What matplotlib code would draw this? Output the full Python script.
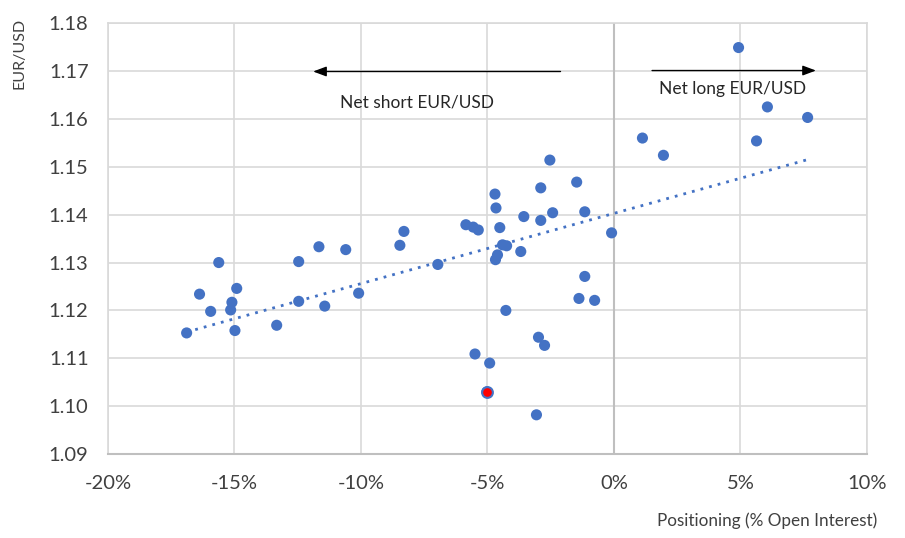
import numpy as np
import matplotlib
matplotlib.use("Agg")
from matplotlib import pyplot as plt
from matplotlib.ticker import FuncFormatter

plt.rcParams['font.family'] = ['Lato', 'DejaVu Sans']

# positioning (% of open interest) vs EUR/USD spot
positioning = [-16.89, -15.62, -16.38, -15.94, -14.91, -15.10, -15.15, -14.98,
               -13.33, -12.46, -12.46, -11.66, -11.43, -10.60, -10.09, -8.46,
               -8.30, -6.96, -5.85, -5.56, -5.36, -4.70, -4.66, -4.51,
               -3.56, -2.53, -2.89, -1.47, -2.89, -2.42, -1.15, -0.09,
               -4.40, -4.24, -3.68, -4.60, -4.68, -1.15, -1.38, -0.76,
               -4.27, -2.98, -2.74, -5.49, -4.91, -3.06,
               4.93, 6.07, 7.66, 1.13, 1.96, 5.64, -5.02]
eurusd = [1.1153, 1.1300, 1.1234, 1.1198, 1.1246, 1.1217, 1.1201, 1.1158,
          1.1169, 1.1302, 1.1219, 1.1333, 1.1209, 1.1327, 1.1236, 1.1336,
          1.1365, 1.1296, 1.1379, 1.1374, 1.1368, 1.1443, 1.1414, 1.1373,
          1.1396, 1.1514, 1.1456, 1.1468, 1.1388, 1.1404, 1.1406, 1.1362,
          1.1337, 1.1335, 1.1323, 1.1316, 1.1306, 1.1271, 1.1225, 1.1221,
          1.1200, 1.1144, 1.1127, 1.1109, 1.1090, 1.0982,
          1.1749, 1.1625, 1.1603, 1.1560, 1.1524, 1.1554, 1.1030]

# latest observation highlighted in red
latest_x = [-5.02]
latest_y = [1.1030]

blue = '#4472C4'
grid_col = '#D9D9D9'
axis_col = '#BFBFBF'
txt_col = '#404040'

fig = plt.figure(figsize=(9.05, 5.38), dpi=100)
ax = fig.add_axes([0.1193, 0.1560, 0.8385, 0.8010])

x = np.array(positioning)
y = np.array(eurusd)

ax.scatter(x, y, s=64, color=blue, edgecolors='none', zorder=3)
ax.scatter(latest_x, latest_y, s=60, color='red', edgecolors=blue, linewidths=1.5, zorder=4)

# linear trendline
slope, intercept = np.polyfit(x, y, 1)
tx = np.array([x.min(), x.max()])
ax.plot(tx, slope * tx + intercept, color=blue, lw=2, linestyle=(0, (1, 2.2)), zorder=2)

ax.set_xlim(-20, 10)
ax.set_ylim(1.09, 1.18)
ax.set_xticks(np.arange(-20, 11, 5))
ax.set_yticks(np.arange(1.09, 1.1801, 0.01))
ax.xaxis.set_major_formatter(FuncFormatter(lambda v, p: '%d%%' % round(v)))
ax.yaxis.set_major_formatter(FuncFormatter(lambda v, p: '%.2f' % v))

ax.grid(True, color=grid_col, lw=1.2, zorder=0)
ax.set_axisbelow(True)
ax.axvline(0, color=axis_col, lw=1.5, zorder=1)
for s in ['left', 'right', 'top']:
    ax.spines[s].set_color(grid_col)
    ax.spines[s].set_linewidth(1.2)
ax.spines['bottom'].set_color(axis_col)
ax.spines['bottom'].set_linewidth(1.5)
ax.tick_params(axis='both', length=0, labelsize=14.5, labelcolor=txt_col)
ax.tick_params(axis='x', pad=15)
ax.tick_params(axis='y', pad=14)

fig.text(0.022, 0.90, 'EUR/USD', rotation=90, ha='center', va='center',
         fontsize=11.5, color=txt_col)
fig.text(0.8475, 0.033, 'Positioning (% Open Interest)', ha='center', va='center',
         fontsize=12.3, color=txt_col)

# direction arrows
ax.annotate('', xy=(-12.0, 1.1699), xytext=(-2.0, 1.1699),
            arrowprops=dict(arrowstyle='-|>,head_length=0.8,head_width=0.3', color='black', lw=1))
ax.annotate('', xy=(8.1, 1.1701), xytext=(1.4, 1.1701),
            arrowprops=dict(arrowstyle='-|>,head_length=0.8,head_width=0.3', color='black', lw=1))
ax.text(-7.8, 1.1634, 'Net short EUR/USD', ha='center', va='center', fontsize=12.5, color='#262626')
ax.text(4.7, 1.1663, 'Net long EUR/USD', ha='center', va='center', fontsize=12.5, color='#262626')

fig.savefig('out.png', dpi=100)
